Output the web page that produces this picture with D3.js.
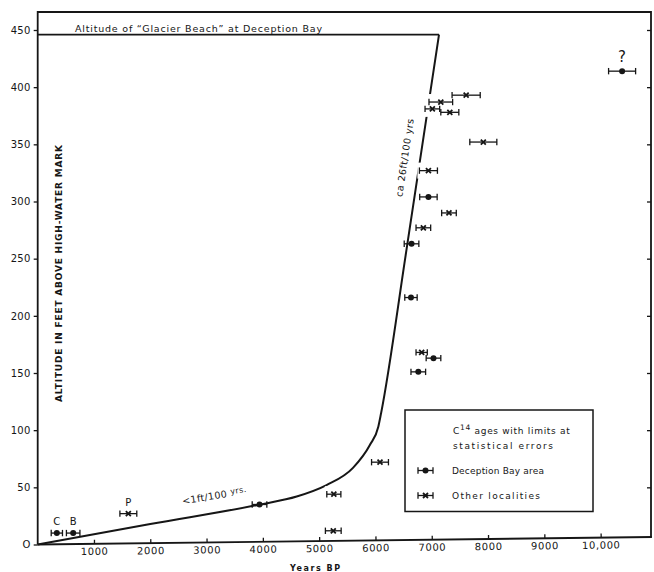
<!DOCTYPE html>
<html>
<head>
<meta charset="utf-8">
<script src="https://cdn.jsdelivr.net/npm/d3@7/dist/d3.min.js"></script>
<style>
  body { margin: 0; background: #fff; }
  svg { display: block; }
  text { font-family: "DejaVu Sans", sans-serif; fill: #161616; }
</style>
</head>
<body>
<svg id="chart" width="654" height="572"></svg>
<script>
// Radiocarbon ages (years BP), altitudes (ft) and 1-sigma errors (years)
const deceptionAge = [340, 630, 3940, 6640, 6630, 7030, 6760, 6940, 10380];
const deceptionAlt = [10, 10, 35, 263, 216, 163, 151, 304, 414];
const deceptionErr = [100, 120, 130, 130, 110, 130, 130, 155, 240];
const deceptionTag = ["C", "B", "", "", "", "", "", "", "?"];

const otherAge = [1610, 5260, 5250, 6080, 6820, 7610, 7160, 7010, 7320, 7915, 6940, 7305, 6850];
const otherAlt = [27, 44, 12, 72, 168, 393, 387, 381, 378, 352, 327, 290, 277];
const otherErr = [150, 125, 140, 150, 100, 250, 210, 130, 160, 240, 160, 130, 130];
const otherTag = ["P", "", "", "", "", "", "", "", "", "", "", "", ""];

// Emergence curve
const curveAge = [0, 2000, 3950, 4600, 5130, 5600, 5900, 6050, 6100, 6542, 7128];
const curveAlt = [0, 18, 35, 42, 52, 67, 87, 103, 115, 255, 446];
const beachAlt = 446;

// Axis ticks
const xTicks = [1000, 2000, 3000, 4000, 5000, 6000, 7000, 8000, 9000, 10000];
const xTickLabels = ["1000", "2000", "3000", "4000", "5000", "6000", "7000", "8000", "9000", "10,000"];
const yTicks = [0, 50, 100, 150, 200, 250, 300, 350, 400, 450];
const yTickLabels = ["O", "50", "100", "150", "200", "250", "300", "350", "400", "450"];

const svg = d3.select("#chart");
const x = d3.scaleLinear().domain([0, 10000]).range([37.7, 600.7]);
const y = d3.scaleLinear().domain([0, 450]).range([544.5, 30]);

const frameTop = 12, frameRight = 651;
const ink = "#161616";

// Frame: left axis, top and right borders
svg.append("path")
  .attr("d", `M${x(0)},${y(0)}V${frameTop}H${frameRight}V536.8`)
  .attr("fill", "none").attr("stroke", ink).attr("stroke-width", 1.8);

// Left axis
const yAxis = svg.append("g").attr("transform", `translate(${x(0)},0)`)
  .call(d3.axisLeft(y).tickValues(yTicks).tickSize(4).tickPadding(3)
    .tickFormat((d, i) => yTickLabels[i]));
yAxis.select(".domain").remove();
yAxis.selectAll("line").attr("stroke", ink).attr("stroke-width", 1.3);
yAxis.selectAll("text").attr("font-size", 10).attr("letter-spacing", 0.3).attr("fill", ink)
  .attr("font-family", "DejaVu Sans");

// Right border ticks
const yAxisR = svg.append("g").attr("transform", `translate(${frameRight},0)`)
  .call(d3.axisRight(y).tickValues(yTicks.slice(1)).tickSize(-4).tickFormat(""));
yAxisR.select(".domain").remove();
yAxisR.selectAll("line").attr("stroke", ink).attr("stroke-width", 1.3);

// Bottom axis (ruled slightly off the horizontal)
const xAxis = svg.append("g")
  .attr("transform", `rotate(-0.7, ${x(0)}, ${y(0)}) translate(0,${y(0)})`)
  .call(d3.axisBottom(x).tickValues(xTicks).tickSize(-4).tickPadding(4)
    .tickFormat((d, i) => xTickLabels[i]));
xAxis.select(".domain").remove();
xAxis.append("line").attr("x1", x(0)).attr("x2", frameRight + 1).attr("stroke", ink).attr("stroke-width", 1.8);
xAxis.selectAll(".tick line").attr("stroke", ink).attr("stroke-width", 1.3);
xAxis.selectAll("text").attr("font-size", 10).attr("letter-spacing", 0.6).attr("fill", ink)
  .attr("font-family", "DejaVu Sans");

// Axis titles
svg.append("text")
  .attr("transform", "translate(62,273.5) rotate(-90)")
  .attr("text-anchor", "middle")
  .attr("font-size", 9).attr("font-weight", "bold")
  .attr("textLength", 257).attr("lengthAdjust", "spacing")
  .text("ALTITUDE IN FEET ABOVE HIGH-WATER MARK");

svg.append("text")
  .attr("x", 290).attr("y", 571)
  .attr("font-size", 8).attr("font-weight", "bold")
  .attr("textLength", 50).attr("lengthAdjust", "spacing")
  .text("Years BP");

// Glacier beach level
svg.append("line")
  .attr("x1", x(0)).attr("x2", x(curveAge[curveAge.length - 1]))
  .attr("y1", y(beachAlt)).attr("y2", y(beachAlt))
  .attr("stroke", ink).attr("stroke-width", 1.8);
svg.append("text")
  .attr("x", 75).attr("y", y(beachAlt) - 2.5)
  .attr("font-size", 9.5)
  .attr("textLength", 247).attr("lengthAdjust", "spacing")
  .text("Altitude of \u201CGlacier Beach\u201D at Deception Bay");

// Emergence curve
const curvePts = curveAge.map((a, i) => [a, curveAlt[i]]);
svg.append("path")
  .datum(curvePts)
  .attr("d", d3.line().x(d => x(d[0])).y(d => y(d[1])).curve(d3.curveMonotoneX))
  .attr("fill", "none").attr("stroke", ink).attr("stroke-width", 2);

// Rate annotations
svg.append("text")
  .attr("transform", "translate(215,499) rotate(-9.5)")
  .attr("text-anchor", "middle").attr("font-size", 9.5).attr("letter-spacing", 0.4)
  .text("<1ft/100 ")
  .append("tspan").attr("font-size", 8).attr("dy", -2).text("yrs.");

svg.append("text")
  .attr("transform", "translate(408,158) rotate(-81.5)")
  .attr("text-anchor", "middle").attr("font-size", 9.5)
  .attr("letter-spacing", 0.5)
  .text("ca 26ft/100 yrs");

// Data markers
const deception = deceptionAge.map((a, i) => ({ age: a, alt: deceptionAlt[i], err: deceptionErr[i], tag: deceptionTag[i], kind: "dot" }));
const other = otherAge.map((a, i) => ({ age: a, alt: otherAlt[i], err: otherErr[i], tag: otherTag[i], kind: "cross" }));

// white knock-out behind the cross markers where they cut the curve
svg.append("g").selectAll("rect").data(other).join("rect")
  .attr("x", d => x(d.age - d.err) - 2)
  .attr("width", d => x(d.age + d.err) - x(d.age - d.err) + 4)
  .attr("y", d => y(d.alt) - 8).attr("height", 16)
  .attr("fill", "#fff");

function drawMarker(g, d, cx, cy, x0, x1) {
  g.append("line").attr("x1", x0).attr("x2", x1).attr("y1", cy).attr("y2", cy);
  g.append("line").attr("x1", x0).attr("x2", x0).attr("y1", cy - 3.2).attr("y2", cy + 3.2);
  g.append("line").attr("x1", x1).attr("x2", x1).attr("y1", cy - 3.2).attr("y2", cy + 3.2);
  if (d.kind === "dot") {
    g.append("circle").attr("cx", cx).attr("cy", cy).attr("r", 3).attr("fill", ink).attr("stroke", "none");
  } else {
    g.append("path").attr("d", `M${cx - 2.5},${cy - 2.5}L${cx + 2.5},${cy + 2.5}M${cx - 2.5},${cy + 2.5}L${cx + 2.5},${cy - 2.5}`)
      .attr("stroke-width", 1.8);
  }
}

const markers = svg.append("g").attr("stroke", ink).attr("stroke-width", 1.3).attr("fill", "none");
[...deception, ...other].forEach(d => {
  const g = markers.append("g");
  drawMarker(g, d, x(d.age), y(d.alt), x(d.age - d.err), x(d.age + d.err));
});

// Sample labels
svg.append("g").selectAll("text").data([...deception, ...other].filter(d => d.tag)).join("text")
  .attr("x", d => x(d.age)).attr("y", d => y(d.alt) - (d.tag === "?" ? 9 : 8))
  .attr("text-anchor", "middle")
  .attr("font-size", d => d.tag === "?" ? 15 : 10)
  .text(d => d.tag);

// Legend
const lg = svg.append("g");
lg.append("rect").attr("x", 405).attr("y", 410).attr("width", 188).attr("height", 101.5)
  .attr("fill", "#fff").attr("stroke", ink).attr("stroke-width", 1.5);
const t1 = lg.append("text").attr("x", 453).attr("y", 433.5).attr("font-size", 9).attr("letter-spacing", 0.7);
t1.append("tspan").text("C");
t1.append("tspan").attr("font-size", 7.5).attr("dy", -4).text("14");
t1.append("tspan").attr("dy", 4).text(" ages with limits at");
lg.append("text").attr("x", 453).attr("y", 448.5).attr("font-size", 9)
  .attr("textLength", 100).attr("lengthAdjust", "spacing").text("statistical errors");

const legendItems = [
  { kind: "dot", label: "Deception Bay area", yy: 470.5, len: 92 },
  { kind: "cross", label: "Other localities", yy: 495.5, len: 88 }
];
legendItems.forEach(it => {
  const g = lg.append("g").attr("stroke", ink).attr("stroke-width", 1.3).attr("fill", "none");
  drawMarker(g, it, 425.5, it.yy, 418, 433);
  lg.append("text").attr("x", 452).attr("y", it.yy + 3.5).attr("font-size", 9)
    .attr("textLength", it.len).attr("lengthAdjust", "spacing").text(it.label);
});
</script>
</body>
</html>
